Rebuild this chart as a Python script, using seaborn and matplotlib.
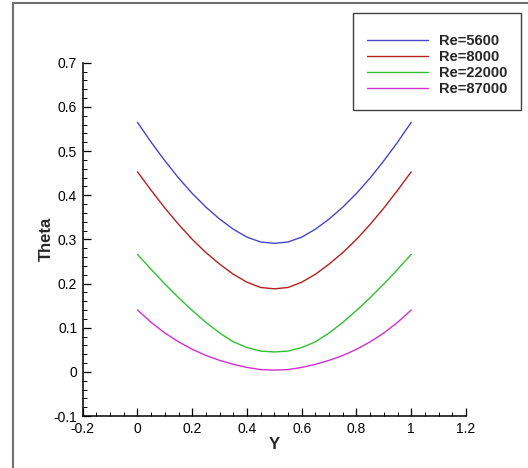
import numpy as np
import pandas as pd
import matplotlib
matplotlib.use("Agg")
import matplotlib.pyplot as plt
from matplotlib.patches import Rectangle
from matplotlib.ticker import MultipleLocator, FuncFormatter
import seaborn as sns

# ---- data ----
y_pos = [0.0, 0.05, 0.1, 0.15, 0.2, 0.25, 0.3, 0.35, 0.4, 0.45, 0.5,
         0.55, 0.6, 0.65, 0.7, 0.75, 0.8, 0.85, 0.9, 0.95, 1.0]
theta_re5600 = [0.565, 0.520, 0.478, 0.439, 0.404, 0.373, 0.346, 0.323, 0.305, 0.294, 0.291,
                0.294, 0.305, 0.323, 0.346, 0.373, 0.404, 0.439, 0.478, 0.520, 0.565]
theta_re8000 = [0.453, 0.411, 0.371, 0.334, 0.300, 0.270, 0.244, 0.221, 0.203, 0.191, 0.188,
                0.191, 0.203, 0.221, 0.244, 0.270, 0.300, 0.334, 0.371, 0.411, 0.453]
theta_re22000 = [0.266, 0.232, 0.199, 0.168, 0.139, 0.112, 0.088, 0.068, 0.055, 0.047, 0.045,
                 0.047, 0.055, 0.068, 0.088, 0.112, 0.139, 0.168, 0.199, 0.232, 0.266]
theta_re87000 = [0.140, 0.112, 0.088, 0.068, 0.051, 0.037, 0.026, 0.017, 0.010, 0.005, 0.004,
                 0.005, 0.010, 0.017, 0.026, 0.037, 0.051, 0.068, 0.088, 0.112, 0.140]
series_names = ["Re=5600", "Re=8000", "Re=22000", "Re=87000"]
series_colors = ["#4646c8", "#b42020", "#30c030", "#d030d0"]

frames = []
for name, vals in zip(series_names,
                      [theta_re5600, theta_re8000, theta_re22000, theta_re87000]):
    frames.append(pd.DataFrame({"Y": y_pos, "Theta": vals, "Re": name}))
df = pd.concat(frames, ignore_index=True)

sns.set_style("ticks")
plt.rcParams["font.family"] = ["Liberation Sans", "DejaVu Sans"]

fig = plt.figure(figsize=(5.28, 4.68), dpi=100)
ax = fig.add_axes([82.7 / 528, 52 / 468, 383.3 / 528, 353.3 / 468])

sns.lineplot(data=df, x="Y", y="Theta", hue="Re", hue_order=series_names,
             palette=dict(zip(series_names, series_colors)), linewidth=1.0,
             ax=ax, legend=True, sort=False, estimator=None)

ax.set_xlim(-0.2, 1.2)
ax.set_ylim(-0.1, 0.7)
ax.xaxis.set_major_locator(MultipleLocator(0.2))
ax.xaxis.set_minor_locator(MultipleLocator(0.05))
ax.yaxis.set_major_locator(MultipleLocator(0.1))
ax.yaxis.set_minor_locator(MultipleLocator(0.02))
fmt = FuncFormatter(lambda v, p: f"{v:g}" if abs(v) > 1e-9 else "0")
ax.xaxis.set_major_formatter(fmt)
ax.yaxis.set_major_formatter(fmt)

for s in ["top", "right"]:
    ax.spines[s].set_visible(False)
for s in ["left", "bottom"]:
    ax.spines[s].set_color("black")
    ax.spines[s].set_linewidth(1.1)

ax.tick_params(which="major", direction="in", length=6, width=0.9, colors="black",
               labelsize=10, pad=4)
ax.tick_params(which="minor", direction="in", length=3, width=0.7, colors="black")

ax.set_xlabel("Y", fontsize=12, fontweight="bold", labelpad=1)
ax.set_ylabel("Theta", fontsize=12, fontweight="bold", labelpad=0)

ax.get_legend().remove()
handles, labels = ax.get_legend_handles_labels()
leg = fig.legend(handles, labels, loc="upper right",
                 bbox_to_anchor=(521 / 528, 1 - 13.3 / 468),
                 bbox_transform=fig.transFigure, borderaxespad=0,
                 frameon=True, fancybox=False, framealpha=1,
                 edgecolor="#404040", handlelength=4.2, handletextpad=0.75,
                 labelspacing=0.14, borderpad=0.95,
                 title=" ", title_fontsize=4,
                 prop={"size": 10.5, "weight": "bold"})
leg.get_frame().set_linewidth(1.0)

# figure border
fig.patches.append(Rectangle((12.7 / 528, -0.05), 1.0, 1.05 - 2.7 / 468,
                             transform=fig.transFigure, fill=False,
                             edgecolor="#707070", linewidth=1.5))

fig.savefig("out.png", dpi=100)
